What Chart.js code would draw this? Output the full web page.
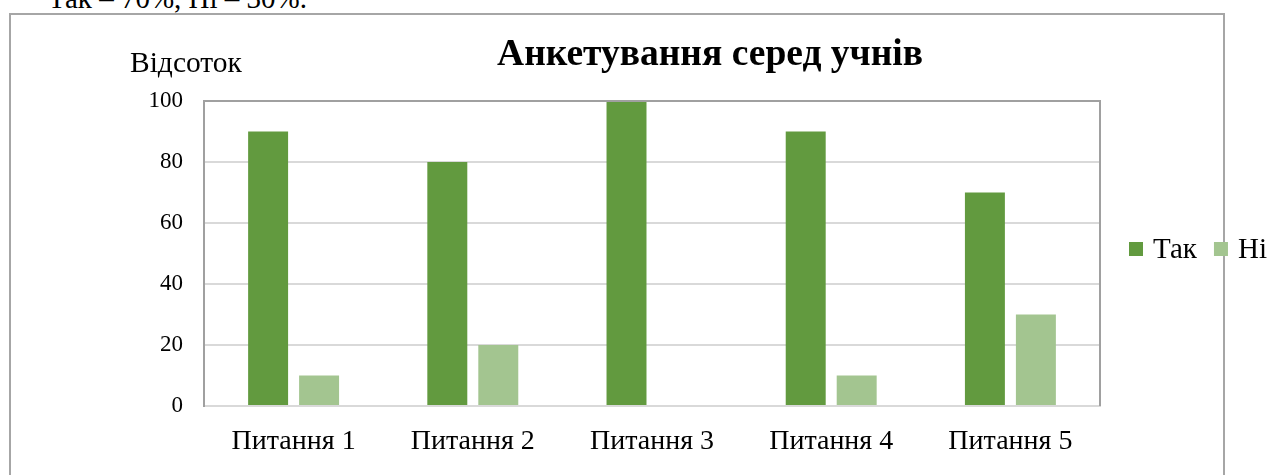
<!DOCTYPE html>
<html>
<head>
<meta charset="utf-8">
<script src="https://cdn.jsdelivr.net/npm/chart.js@4.4.1/dist/chart.umd.min.js"></script>
<style>
  body { margin: 0; background: #fff; overflow: hidden; }
  #wrap { position: relative; width: 1267px; height: 475px; }
  #topline { position: absolute; left: 48px; top: -16px; font: 29px/1 "Liberation Serif", "Times New Roman", serif; color: #000; white-space: nowrap; }
  #frame { position: absolute; left: 9px; top: 13px; width: 1216px; height: 600px; box-sizing: border-box; border: 2px solid #a6a6a6; }
  canvas { position: absolute; left: 0; top: 0; }
</style>
</head>
<body>
<div id="wrap">
  <div id="topline">Так – 70%, Ні – 30%.</div>
  <div id="frame"></div>
  <canvas id="chart" width="1267" height="475"></canvas>
</div>
<script>
// data
var categories = ["Питання 1", "Питання 2", "Питання 3", "Питання 4", "Питання 5"];
var seriesNames = ["Так", "Ні"];
var yesValues = [90, 80, 100, 90, 70];
var noValues = [10, 20, 0, 10, 30];
var yMin = 0, yMax = 100, yStep = 20;
var chartTitle = "Анкетування серед учнів";
var yTitle = "Відсоток";

var serif = '"Liberation Serif", "Times New Roman", serif';

// title, y label, legend and the plot frame
var decor = {
	id: 'decor',
	afterDraw: function(chart) {
		var ctx = chart.ctx, a = chart.chartArea;
		ctx.save();
		ctx.strokeStyle = '#a0a0a0';
		ctx.lineWidth = 2;
		ctx.beginPath();
		ctx.moveTo(a.left, a.top);
		ctx.lineTo(a.right, a.top);
		ctx.lineTo(a.right, a.bottom);
		ctx.stroke();

		ctx.fillStyle = '#000';
		ctx.textBaseline = 'alphabetic';
		ctx.textAlign = 'center';
		ctx.font = 'bold 37.5px ' + serif;
		ctx.fillText(chartTitle, 710, 65);

		ctx.textAlign = 'left';
		ctx.font = '29.5px ' + serif;
		ctx.fillText(yTitle, 130, 72);

		// legend
		var x = 1129, y = 258;
		ctx.font = '29px ' + serif;
		chart.data.datasets.forEach(function(ds) {
			ctx.fillStyle = ds.backgroundColor;
			ctx.fillRect(x, 242, 14, 14);
			ctx.fillStyle = '#000';
			ctx.fillText(ds.label, x + 24, y);
			x += 24 + ctx.measureText(ds.label).width + 17;
		});
		ctx.restore();
	}
};

var ctx1 = document.getElementById("chart");

var chart1 = new Chart(ctx1, {
	type: 'bar',
	data: {
		labels: categories,
		datasets: [
		{
			label: seriesNames[0],
			data: yesValues,
			backgroundColor: "#629a3f"
		},
		{
			label: seriesNames[1],
			data: noValues,
			backgroundColor: "#a3c590"
		}
		]
	},
	options: {
		responsive: false,
		animation: false,
		devicePixelRatio: 1,
		categoryPercentage: 0.569,
		barPercentage: 0.784,
		layout: { padding: { top: 101, left: 150, right: 167, bottom: 0 } },
		plugins: {
			legend: { display: false },
			title: { display: false },
			tooltip: { enabled: false }
		},
		scales: {
			x: {
				grid: { display: false },
				border: { color: '#d9d9d9', width: 2 },
				ticks: { color: '#000', font: { family: serif, size: 28 }, padding: 11, maxRotation: 0 },
				afterFit: function(s) { s.height = 69; }
			},
			y: {
				min: yMin,
				max: yMax,
				grid: { color: '#d9d9d9', lineWidth: 2, drawTicks: false },
				border: { color: '#a0a0a0', width: 2 },
				ticks: { stepSize: yStep, color: '#000', font: { family: serif, size: 23 }, padding: 21 },
				afterFit: function(s) { s.width = 54; }
			}
		}
	},
	plugins: [decor]
});
</script>
</body>
</html>
